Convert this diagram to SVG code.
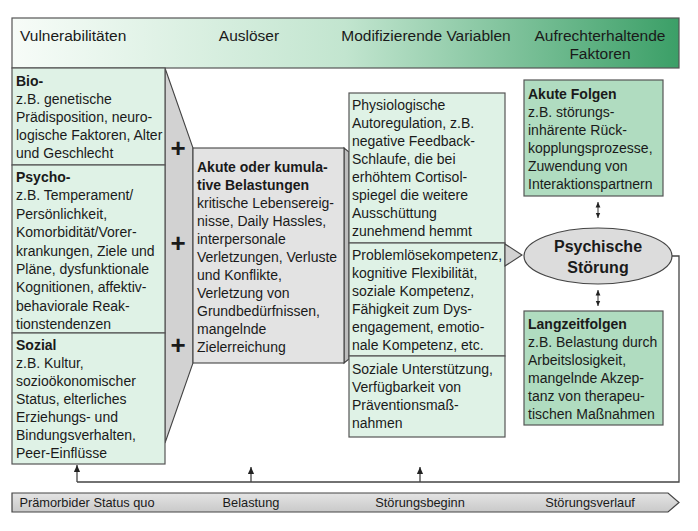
<svg xmlns="http://www.w3.org/2000/svg" width="698" height="531" viewBox="0 0 698 531">
<defs>
<linearGradient id="hdr" x1="0" y1="0" x2="1" y2="0">
<stop offset="0" stop-color="#f7fcf8"/>
<stop offset="0.5" stop-color="#c2e5cf"/>
<stop offset="1" stop-color="#3b9f67"/>
</linearGradient>
<linearGradient id="bar" x1="0" y1="0" x2="0" y2="1">
<stop offset="0" stop-color="#e4e4e4"/>
<stop offset="1" stop-color="#c9c9c9"/>
</linearGradient>
<marker id="ah" viewBox="0 0 8 8" refX="8" refY="4" markerWidth="7" markerHeight="7" orient="auto-start-reverse" markerUnits="userSpaceOnUse">
<path d="M0,0.5 L8,4 L0,7.5 Z" fill="#222"/>
</marker>
<marker id="dh" viewBox="0 0 8 8" refX="8" refY="4" markerWidth="5.5" markerHeight="5.5" orient="auto-start-reverse" markerUnits="userSpaceOnUse">
<path d="M0,0.5 L8,4 L0,7.5 Z" fill="#222"/>
</marker>
</defs>
<style>
text{font-family:"Liberation Sans",Arial,sans-serif;fill:#1a1a1a}
.t{font-size:14px}
.b{font-size:14px;font-weight:bold}
.h{font-size:15.5px}
.tl{font-size:12.8px}
.plus{font-size:26px;font-weight:bold}
.lt{fill:#dff2e6;stroke:#555;stroke-width:1.2}
.md{fill:#b0dcc0;stroke:#555;stroke-width:1.2}
.gr{fill:#d2d2d2;stroke:#444;stroke-width:1.1}
.ln{fill:none;stroke:#444;stroke-width:1.3}
</style>
<rect width="698" height="531" fill="#ffffff"/>

<g id="header">
<rect x="12" y="18" width="667" height="50" fill="url(#hdr)" stroke="#555" stroke-width="1.2"/>
<text class="h" x="20" y="41">Vulnerabilitäten</text>
<text class="h" x="249" y="41" text-anchor="middle">Auslöser</text>
<text class="h" x="426" y="41" text-anchor="middle">Modifizierende Variablen</text>
<text class="h" x="600" y="41" text-anchor="middle">Aufrechterhaltende</text>
<text class="h" x="600" y="59" text-anchor="middle">Faktoren</text>
</g>

<g id="funnel">
<polygon class="gr" points="165,68 193,148 193,363 165,443"/>
<text class="plus" x="178" y="157" text-anchor="middle">+</text>
<text class="plus" x="178" y="252" text-anchor="middle">+</text>
<text class="plus" x="178" y="354" text-anchor="middle">+</text>
</g>

<g id="bio">
<rect class="lt" x="12" y="68" width="153" height="97"/>
<text class="b" x="16" y="86">Bio-</text>
<text class="t" x="16" y="104">z.B. genetische</text>
<text class="t" x="16" y="122">Prädisposition, neuro-</text>
<text class="t" x="16" y="140">logische Faktoren, Alter</text>
<text class="t" x="16" y="158">und Geschlecht</text>
</g>

<g id="psycho">
<rect class="lt" x="12" y="165" width="153" height="168"/>
<text class="b" x="16" y="182">Psycho-</text>
<text class="t" x="16" y="200.4">z.B. Temperament/</text>
<text class="t" x="16" y="218.8">Persönlichkeit,</text>
<text class="t" x="16" y="237.2">Komorbidität/Vorer-</text>
<text class="t" x="16" y="255.6">krankungen, Ziele und</text>
<text class="t" x="16" y="274">Pläne,  dysfunktionale</text>
<text class="t" x="16" y="292.4">Kognitionen, affektiv-</text>
<text class="t" x="16" y="310.8">behaviorale Reak-</text>
<text class="t" x="16" y="329.2">tionstendenzen</text>
</g>

<g id="sozial">
<rect class="lt" x="12" y="333" width="153" height="131"/>
<text class="b" x="16" y="350">Sozial</text>
<text class="t" x="16" y="368">z.B.  Kultur,</text>
<text class="t" x="16" y="386">sozioökonomischer</text>
<text class="t" x="16" y="404">Status, elterliches</text>
<text class="t" x="16" y="422">Erziehungs- und</text>
<text class="t" x="16" y="440">Bindungsverhalten,</text>
<text class="t" x="16" y="458">Peer-Einflüsse</text>
</g>

<g id="belastungen">
<polygon fill="#bdbdbd" stroke="#444" stroke-width="1.1" points="344,148 349,152 349,359 344,363"/>
<rect x="193" y="148" width="151" height="215" fill="#e3e3e3" stroke="#444" stroke-width="1.1"/>
<text class="b" x="197" y="172">Akute oder kumula-</text>
<text class="b" x="197" y="190">tive Belastungen</text>
<text class="t" x="197" y="208">kritische Lebensereig-</text>
<text class="t" x="197" y="226">nisse, Daily Hassles,</text>
<text class="t" x="197" y="244">interpersonale</text>
<text class="t" x="197" y="262">Verletzungen, Verluste</text>
<text class="t" x="197" y="280">und Konflikte,</text>
<text class="t" x="197" y="298">Verletzung von</text>
<text class="t" x="197" y="316">Grundbedürfnissen,</text>
<text class="t" x="197" y="334">mangelnde</text>
<text class="t" x="197" y="352">Zielerreichung</text>
</g>

<g id="physiologisch">
<rect class="lt" x="349" y="93" width="156" height="150"/>
<text class="t" x="352" y="110">Physiologische</text>
<text class="t" x="352" y="128">Autoregulation, z.B.</text>
<text class="t" x="352" y="146">negative Feedback-</text>
<text class="t" x="352" y="164">Schlaufe, die bei</text>
<text class="t" x="352" y="182">erhöhtem Cortisol-</text>
<text class="t" x="352" y="200">spiegel die weitere</text>
<text class="t" x="352" y="218">Ausschüttung</text>
<text class="t" x="352" y="236">zunehmend hemmt</text>
</g>

<g id="kompetenz">
<rect class="lt" x="349" y="243" width="156" height="113"/>
<text class="t" x="352" y="260">Problemlösekompetenz,</text>
<text class="t" x="352" y="278">kognitive Flexibilität,</text>
<text class="t" x="352" y="296">soziale Kompetenz,</text>
<text class="t" x="352" y="314">Fähigkeit zum Dys-</text>
<text class="t" x="352" y="332">engagement, emotio-</text>
<text class="t" x="352" y="350">nale Kompetenz, etc.</text>
</g>

<g id="unterstuetzung">
<rect class="lt" x="349" y="356" width="156" height="81"/>
<text class="t" x="352" y="374">Soziale Unterstützung,</text>
<text class="t" x="352" y="392">Verfügbarkeit von</text>
<text class="t" x="352" y="410">Präventionsmaß-</text>
<text class="t" x="352" y="428">nahmen</text>
</g>

<g id="akute-folgen">
<rect class="md" x="524" y="80" width="139" height="116"/>
<text class="b" x="528" y="99">Akute Folgen</text>
<text class="t" x="528" y="117">z.B. störungs-</text>
<text class="t" x="528" y="135">inhärente Rück-</text>
<text class="t" x="528" y="153">kopplungsprozesse,</text>
<text class="t" x="528" y="171">Zuwendung von</text>
<text class="t" x="528" y="189">Interaktionspartnern</text>
</g>

<g id="stoerung">
<ellipse cx="598" cy="256" rx="74" ry="28" fill="#dcdcdc" stroke="#444" stroke-width="1.2"/>
<text x="598" y="252" text-anchor="middle" style="font-size:16px;font-weight:bold">Psychische</text>
<text x="598" y="273" text-anchor="middle" style="font-size:16px;font-weight:bold">Störung</text>
</g>

<g id="langzeitfolgen">
<rect class="md" x="524" y="311" width="139" height="114"/>
<text class="b" x="528" y="329">Langzeitfolgen</text>
<text class="t" x="528" y="347">z.B. Belastung durch</text>
<text class="t" x="528" y="365">Arbeitslosigkeit,</text>
<text class="t" x="528" y="383">mangelnde Akzep-</text>
<text class="t" x="528" y="401">tanz von therapeu-</text>
<text class="t" x="528" y="419">tischen Maßnahmen</text>
</g>

<g id="timeline">
<polygon points="12,493 668,493 679,502.5 668,512 12,512" fill="url(#bar)" stroke="#444" stroke-width="1.2"/>
<text class="tl" x="87" y="507" text-anchor="middle">Prämorbider Status quo</text>
<text class="tl" x="251" y="507" text-anchor="middle">Belastung</text>
<text class="tl" x="420" y="507" text-anchor="middle">Störungsbeginn</text>
<text class="tl" x="590" y="507" text-anchor="middle">Störungsverlauf</text>
</g>

<g id="connectors">
<polygon points="505,244 522,255 505,266" fill="#d2d2d2" stroke="#444" stroke-width="1.1"/>
<line class="ln" x1="598" y1="202" x2="598" y2="218" marker-start="url(#dh)" marker-end="url(#dh)" style="stroke-width:1.1"/>
<line class="ln" x1="598" y1="290" x2="598" y2="306" marker-start="url(#dh)" marker-end="url(#dh)" style="stroke-width:1.1"/>
<path class="ln" d="M672,256 H679 V482 H77"/>
<line class="ln" x1="77" y1="482" x2="77" y2="465" marker-end="url(#ah)"/>
<line class="ln" x1="251" y1="482" x2="251" y2="467" marker-end="url(#ah)"/>
<line class="ln" x1="420" y1="482" x2="420" y2="467" marker-end="url(#ah)"/>
</g>
</svg>
